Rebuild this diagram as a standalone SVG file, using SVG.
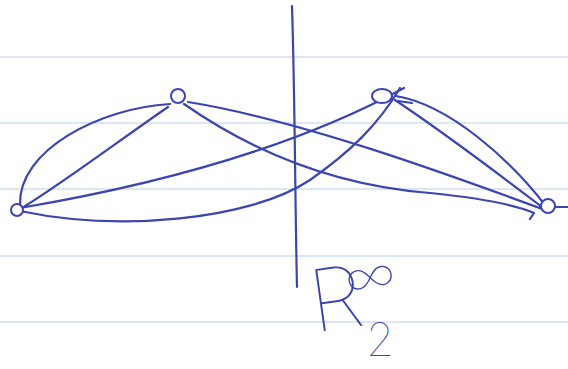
<svg xmlns="http://www.w3.org/2000/svg" width="568" height="369" viewBox="0 0 568 369">
<style>
.rule{stroke:#cfe1f1;stroke-width:1.5;fill:none}
.ink{stroke:#3b45b0;stroke-width:2.2;fill:none;stroke-linecap:round;stroke-linejoin:round}
.node{stroke:#3b45b0;stroke-width:2;fill:#fff}
.lbl{fill:#3b45b0;font-family:Inter,"Liberation Sans",sans-serif;font-weight:100}
</style>
<rect width="568" height="369" fill="#fff"/>
<g id="paper">
<line class="rule" x1="0" y1="57" x2="568" y2="57"/>
<line class="rule" x1="0" y1="123" x2="568" y2="123"/>
<line class="rule" x1="0" y1="189" x2="568" y2="189"/>
<line class="rule" x1="0" y1="256" x2="568" y2="256"/>
<line class="rule" x1="0" y1="322" x2="568" y2="322"/>
</g>
<g id="connectors">
<path class="ink" d="M20,205 C 18,150 100,108 170,104"/>
<path class="ink" d="M22,208 C 60,185 120,140 168,107"/>
<path class="ink" d="M20,208 C 150,186 290,150 404,88"/>
<path class="ink" d="M20,211 C 120,232 250,220 310,180 C 350,152 378,125 400,88"/>
<path class="ink" d="M188,102 C 300,120 450,175 545,210"/>
<path class="ink" d="M184,104 C 250,150 330,185 430,193 C 480,198 515,205 534,213 L 530,219"/>
<path class="ink" d="M396,96 C 450,105 510,160 545,205"/>
<path class="ink" d="M395,100 C 440,130 500,175 542,207"/>
<path class="ink" d="M540,207 L 568,207"/>
<path class="ink" d="M398,101 L 412,103"/>
</g>
<g id="node-L"><circle class="node" cx="17" cy="210" r="6"/></g>
<g id="node-A"><circle class="node" cx="178" cy="96" r="7"/></g>
<g id="node-B"><ellipse class="node" cx="382" cy="96" rx="10" ry="7"/></g>
<g id="node-R"><circle class="node" cx="548" cy="206" r="7"/></g>
<g id="axis"><path class="ink" stroke-width="1.8" d="M292,6 C 295,100 295,200 297,287"/></g>
<g id="label">
<text class="lbl" x="310" y="330" font-size="86" transform="rotate(-8 330 300)">R</text>
<text class="lbl" x="345" y="296" font-size="58" transform="rotate(-10 368 280)">∞</text>
<text class="lbl" x="366" y="356" font-size="46">2</text>
</g>
</svg>
